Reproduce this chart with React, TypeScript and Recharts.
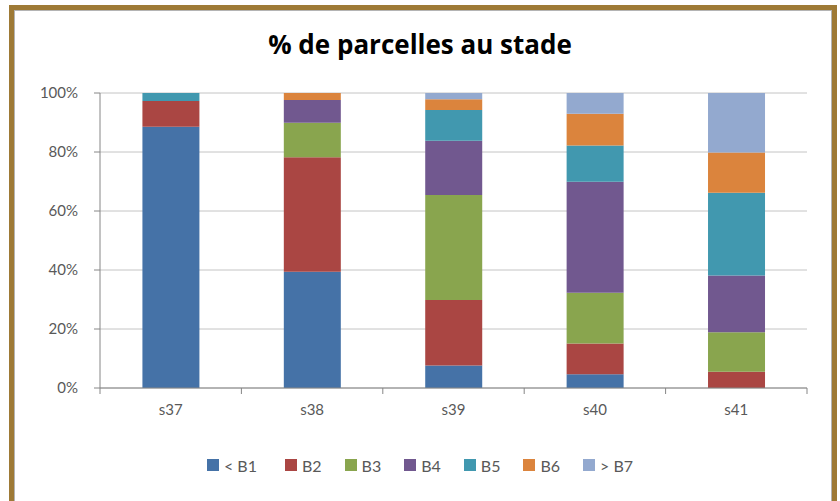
import React from "react";
import { BarChart, Bar, XAxis, YAxis, CartesianGrid, Legend } from "recharts";

const categories = ["s37", "s38", "s39", "s40", "s41"];
const seriesNames = ["< B1", "B2", "B3", "B4", "B5", "B6", "> B7"];
const seriesKeys = ["b1", "b2", "b3", "b4", "b5", "b6", "b7"];
const seriesColors = ["#4572A7", "#AA4643", "#89A54E", "#71588F", "#4198AF", "#DB843D", "#93A9CF"];

const b1 = [88.6, 39.4, 7.6, 4.7, 0];
const b2 = [8.7, 38.8, 22.2, 10.4, 5.5];
const b3 = [0, 11.7, 35.6, 17.2, 13.4];
const b4 = [0, 7.7, 18.4, 37.6, 19.2];
const b5 = [2.7, 0, 10.4, 12.3, 28.1];
const b6 = [0, 2.4, 3.7, 10.8, 13.6];
const b7 = [0, 0, 2.1, 7.0, 20.2];

const yTicks = [0, 20, 40, 60, 80, 100];

const seriesValues = [b1, b2, b3, b4, b5, b6, b7];
const data = categories.map((c, i) => {
  const row: any = { name: c };
  seriesKeys.forEach((k, j) => {
    row[k] = seriesValues[j][i];
  });
  return row;
});

const FONT = "Lato, 'Open Sans', sans-serif";
const TITLE_FONT = "'Open Sans', Lato, sans-serif";
const TICK_COLOR = "#595959";
const AXIS_COLOR = "#868686";

const XTick = (props: any) => {
  const { x, y, payload, index, visibleTicksCount, width } = props;
  const band = payload && payload.offset ? payload.offset * 2 : width / visibleTicksCount;
  const axisY = y - 16;
  return (
    <g>
      <line x1={x - band / 2} x2={x - band / 2} y1={axisY} y2={axisY + 6} stroke={AXIS_COLOR} />
      {index === visibleTicksCount - 1 && (
        <line x1={x + band / 2} x2={x + band / 2} y1={axisY} y2={axisY + 6} stroke={AXIS_COLOR} />
      )}
      <text x={x} y={y} dy="0.71em" textAnchor="middle" fill={TICK_COLOR} fontSize={15} fontFamily={FONT}>
        {payload.value}
      </text>
    </g>
  );
};

const LegendContent = () => (
  <div
    style={{
      display: "flex",
      justifyContent: "center",
      alignItems: "center",
      height: 20,
      fontFamily: FONT,
      fontSize: 16,
      color: TICK_COLOR,
      paddingLeft: 36,
    }}
  >
    {seriesNames.map((n, i) => (
      <div key={n} style={{ display: "flex", alignItems: "center", marginRight: i === 0 ? 28 : 23 }}>
        <span style={{ display: "inline-block", width: 12, height: 12, background: seriesColors[i], marginRight: 5 }} />
        <span>{n}</span>
      </div>
    ))}
  </div>
);

export default function App() {
  return (
    <div style={{ position: "absolute", left: 0, top: 0, width: 840, height: 501, overflow: "hidden", background: "#fff" }}>
      <div
        style={{
          position: "absolute",
          left: 9,
          top: 5,
          width: 828,
          height: 506,
          boxSizing: "border-box",
          border: "5px solid #9E7A36",
        }}
      >
        <div style={{ position: "absolute", inset: 0, border: "1px solid #b4b4b4", boxSizing: "border-box" }} />
      </div>
      <div
        style={{
          position: "absolute",
          left: 0,
          top: 27,
          width: 840,
          textAlign: "center",
          fontFamily: TITLE_FONT,
          fontWeight: 700,
          fontSize: 26,
          lineHeight: "34px",
          color: "#000",
        }}
      >
        % de parcelles au stade
      </div>
      <div style={{ position: "absolute", left: 0, top: 0 }}>
        <BarChart
          width={840}
          height={501}
          data={data}
          margin={{ top: 93, right: 33, left: 20, bottom: 26 }}
          barCategoryGap="30%"
        >
          <CartesianGrid vertical={false} stroke="#c4c4c4" />
          <XAxis
            dataKey="name"
            height={67}
            tickLine={false}
            tickSize={6}
            tickMargin={10}
            stroke={AXIS_COLOR}
            tick={<XTick />}
            interval={0}
          />
          <YAxis
            width={80}
            domain={[0, 100]}
            ticks={yTicks}
            tickFormatter={(v: number) => `${v}%`}
            tickSize={6}
            tickMargin={16}
            stroke={AXIS_COLOR}
            tick={{ fill: TICK_COLOR, fontSize: 15, fontFamily: FONT }}
            allowDataOverflow
          />
          <Legend verticalAlign="bottom" content={<LegendContent />} />
          {seriesKeys.map((k, i) => (
            <Bar key={k} dataKey={k} name={seriesNames[i]} stackId="a" fill={seriesColors[i]} isAnimationActive={false} />
          ))}
        </BarChart>
      </div>
    </div>
  );
}
